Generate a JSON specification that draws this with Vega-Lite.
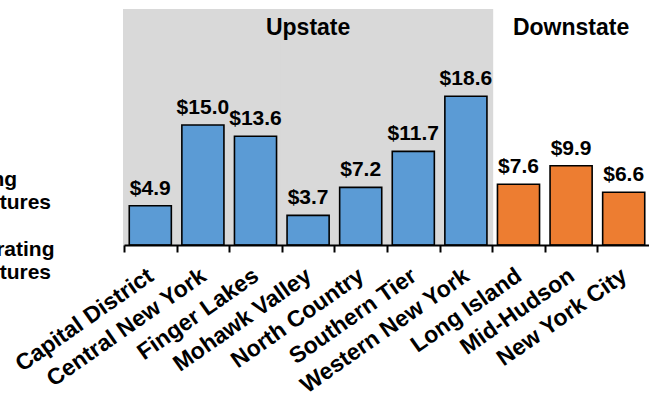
{
  "$schema": "https://vega.github.io/schema/vega-lite/v6.json",
  "width": 526,
  "height": 235,
  "autosize": {"type": "none"},
  "padding": {"left": 124, "top": 10, "right": 0, "bottom": 156},
  "background": "white",
  "config": {
    "view": {"stroke": null},
    "font": "Liberation Sans",
    "text": {"font": "Liberation Sans"}
  },
  "datasets": {
    "regions": [
      {"region": "Capital District", "area": "Upstate", "value": 4.9},
      {"region": "Central New York", "area": "Upstate", "value": 15.0},
      {"region": "Finger Lakes", "area": "Upstate", "value": 13.6},
      {"region": "Mohawk Valley", "area": "Upstate", "value": 3.7},
      {"region": "North Country", "area": "Upstate", "value": 7.2},
      {"region": "Southern Tier", "area": "Upstate", "value": 11.7},
      {"region": "Western New York", "area": "Upstate", "value": 18.6},
      {"region": "Long Island", "area": "Downstate", "value": 7.6},
      {"region": "Mid-Hudson", "area": "Downstate", "value": 9.9},
      {"region": "New York City", "area": "Downstate", "value": 6.6}
    ],
    "headers": [
      {"area": "Upstate", "middle": "Mohawk Valley"},
      {"area": "Downstate", "middle": "Mid-Hudson"}
    ],
    "legendItems": [
      {"kind": "Operating Expenditures"},
      {"kind": "Nonoperating Expenditures"}
    ]
  },
  "layer": [
    {
      "data": {"name": "regions"},
      "transform": [{"filter": "datum.area === 'Upstate'"}],
      "mark": {"type": "rect", "color": "#D9D9D9", "stroke": "#D9D9D9", "strokeWidth": 2},
      "encoding": {
        "x": {
          "field": "region",
          "type": "nominal",
          "scale": {
            "domain": ["Capital District", "Central New York", "Finger Lakes", "Mohawk Valley", "North Country", "Southern Tier", "Western New York", "Long Island", "Mid-Hudson", "New York City"],
            "paddingInner": 0,
            "paddingOuter": 0
          },
          "axis": {
            "title": null,
            "labelAngle": -35,
            "labelFontSize": 23,
            "labelFontWeight": "bold",
            "labelColor": "black",
            "labelOverlap": false,
            "labelBound": false,
            "labelLimit": 0,
            "labelPadding": 12,
            "labelOffset": -6,
            "tickBand": "extent",
            "tickSize": 7,
            "tickWidth": 2,
            "tickColor": "black",
            "domainWidth": 2,
            "domainColor": "black",
            "zindex": 1
          }
        }
      }
    },
    {
      "data": {"name": "regions"},
      "mark": {"type": "bar", "stroke": "black", "strokeWidth": 1.6, "width": {"band": 0.8}},
      "encoding": {
        "x": {"field": "region", "type": "nominal"},
        "y": {
          "field": "value",
          "type": "quantitative",
          "scale": {"domain": [0, 29.375], "nice": false, "zero": true},
          "axis": null
        },
        "color": {
          "field": "area",
          "type": "nominal",
          "scale": {"domain": ["Upstate", "Downstate"], "range": ["#5B9BD5", "#ED7D31"]},
          "legend": null
        }
      }
    },
    {
      "data": {"name": "regions"},
      "mark": {"type": "text", "fontSize": 21, "fontWeight": "bold", "color": "black", "baseline": "alphabetic", "align": "center", "dy": -11},
      "encoding": {
        "x": {"field": "region", "type": "nominal"},
        "y": {"field": "value", "type": "quantitative"},
        "text": {"field": "value", "type": "quantitative", "format": "$.1f"}
      }
    },
    {
      "data": {"name": "headers"},
      "mark": {"type": "text", "fontSize": 23, "fontWeight": "bold", "color": "black", "baseline": "alphabetic", "align": "center"},
      "encoding": {
        "x": {"field": "middle", "type": "nominal"},
        "y": {"datum": 26.25, "type": "quantitative"},
        "text": {"field": "area", "type": "nominal"}
      }
    },
    {
      "data": {"name": "legendItems"},
      "mark": {"type": "point", "opacity": 0},
      "encoding": {
        "shape": {
          "field": "kind",
          "type": "nominal",
          "scale": {"domain": ["Operating Expenditures", "Nonoperating Expenditures"]},
          "legend": {
            "orient": "none",
            "legendX": -227,
            "legendY": 148,
            "title": null,
            "padding": 0,
            "symbolSize": 0,
            "symbolOpacity": 0,
            "symbolStrokeWidth": 0,
            "labelOffset": 0,
            "labelExpr": "split(datum.label, ' ')",
            "labelFontSize": 21,
            "labelFontWeight": "bold",
            "labelColor": "black",
            "labelBaseline": "top",
            "labelLimit": 0,
            "rowPadding": 15
          }
        }
      }
    }
  ]
}
